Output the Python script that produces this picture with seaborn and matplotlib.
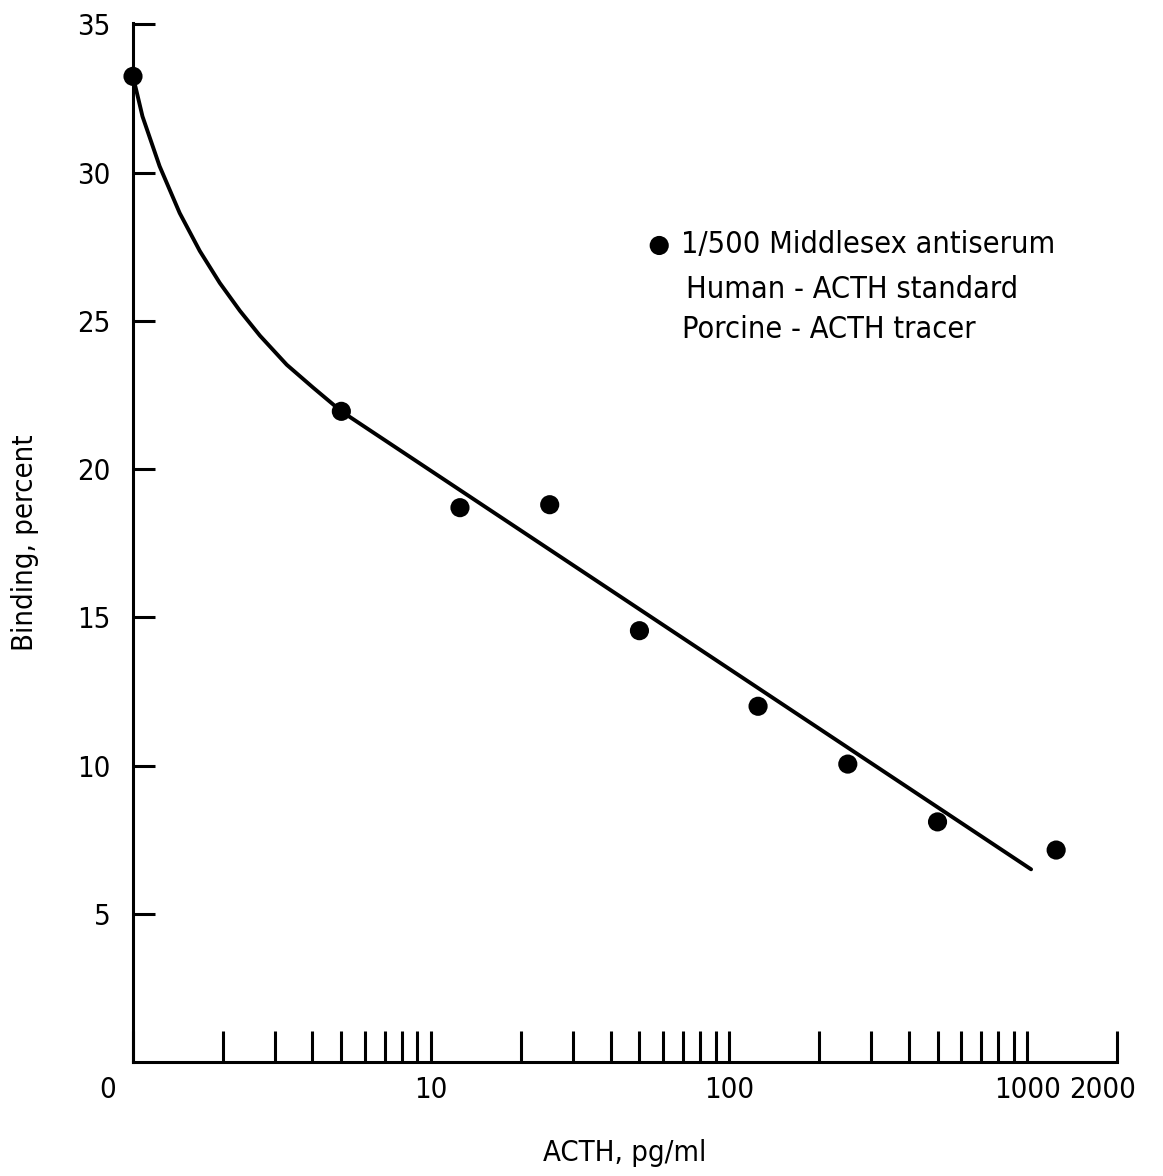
import matplotlib

matplotlib.use("Agg")
import matplotlib.pyplot as plt
import matplotlib.transforms as mtransforms
import pandas as pd
import seaborn as sns
from matplotlib.ticker import FixedLocator, FixedFormatter, NullFormatter

# measured points (zero dose placed at the axis origin, x = 1)
acth_dose = [1, 5, 12.5, 25, 50, 125, 250, 500, 1250]
binding_pct = [33.25, 21.95, 18.7, 18.8, 14.55, 12.0, 10.05, 8.1, 7.15]

# fitted curve as drawn on the original figure
curve_dose = [1, 1.076, 1.228, 1.434, 1.675, 1.955, 2.284, 2.667, 3.28, 4.02, 5.0, 1030]
curve_binding = [33.25, 31.9, 30.22, 28.64, 27.36, 26.28, 25.34, 24.5, 23.52, 22.75, 21.95, 6.5]

major_x = [1, 10, 100, 1000, 2000]
major_x_labels = ["0", "10", "100", "1000", "2000"]
minor_x = [2, 3, 4, 5, 6, 7, 8, 9, 20, 30, 40, 50, 60, 70, 80, 90,
           200, 300, 400, 500, 600, 700, 800, 900]
y_ticks = [5, 10, 15, 20, 25, 30, 35]

legend_lines = ["1/500 Middlesex antiserum", "Human - ACTH standard", "Porcine - ACTH tracer"]

sns.set_theme(style="ticks")
plt.rcParams["font.family"] = ["DejaVu Sans"]
plt.rcParams["font.stretch"] = "condensed"
plt.rcParams["text.color"] = "black"
plt.rcParams["axes.labelcolor"] = "black"
plt.rcParams["axes.edgecolor"] = "black"
plt.rcParams["axes.linewidth"] = 2.2

fs = 21
leg_fs = 22
points = pd.DataFrame({"dose": acth_dose, "binding": binding_pct})
curve = pd.DataFrame({"dose": curve_dose, "binding": curve_binding})

fig = plt.figure(figsize=(11.63, 11.76), dpi=100)
ax = fig.add_axes([133 / 1163, 1 - 1062 / 1176, (1117 - 133) / 1163, (1062 - 23) / 1176])

sns.lineplot(data=curve, x="dose", y="binding", color="black", linewidth=2.8,
             sort=False, ax=ax)
sns.scatterplot(data=points, x="dose", y="binding", color="black", s=190,
                edgecolor="none", ax=ax, label=legend_lines[0], clip_on=False, zorder=5)

ax.set_xscale("log")
ax.set_xlim(1, 2000)
ax.set_ylim(0, 35.05)

ax.xaxis.set_major_locator(FixedLocator(major_x))
ax.xaxis.set_major_formatter(FixedFormatter(major_x_labels))
ax.xaxis.set_minor_locator(FixedLocator(minor_x))
ax.xaxis.set_minor_formatter(NullFormatter())
ax.set_yticks(y_ticks)
ax.set_yticklabels([str(v) for v in y_ticks])

ax.tick_params(axis="x", which="both", direction="in", length=22, width=2.2,
               pad=10, labelsize=fs, colors="black")
ax.tick_params(axis="y", which="both", direction="in", length=16, width=2.2,
               pad=16, labelsize=fs, colors="black")
sns.despine(ax=ax)

# the "0" and "2000" labels sit a little left of their ticks in the original
xlabels = ax.get_xticklabels()
xlabels[0].set_transform(xlabels[0].get_transform()
                         + mtransforms.ScaledTranslation(-0.25, 0, fig.dpi_scale_trans))
xlabels[-1].set_transform(xlabels[-1].get_transform()
                          + mtransforms.ScaledTranslation(-0.14, 0, fig.dpi_scale_trans))

ax.set_xlabel("ACTH, pg/ml", fontsize=fs, va="center")
ax.xaxis.set_label_coords(0.5, (1062 - 1153) / (1062 - 23))
ax.set_ylabel("Binding, percent", fontsize=fs, va="center")
ax.yaxis.set_label_coords((25 - 133) / (1117 - 133), 0.5)

leg = ax.legend(loc="center left", bbox_to_anchor=(647 / 1163, 1 - 245 / 1176),
                bbox_transform=fig.transFigure, frameon=False, fontsize=leg_fs,
                borderpad=0, borderaxespad=0, handlelength=0.8, handletextpad=0.3,
                markerscale=1.0)
fig.text(686 / 1163, 1 - 290 / 1176, legend_lines[1], fontsize=leg_fs, va="center", ha="left")
fig.text(682 / 1163, 1 - 330 / 1176, legend_lines[2], fontsize=leg_fs, va="center", ha="left")

fig.savefig("out.png", dpi=100)
